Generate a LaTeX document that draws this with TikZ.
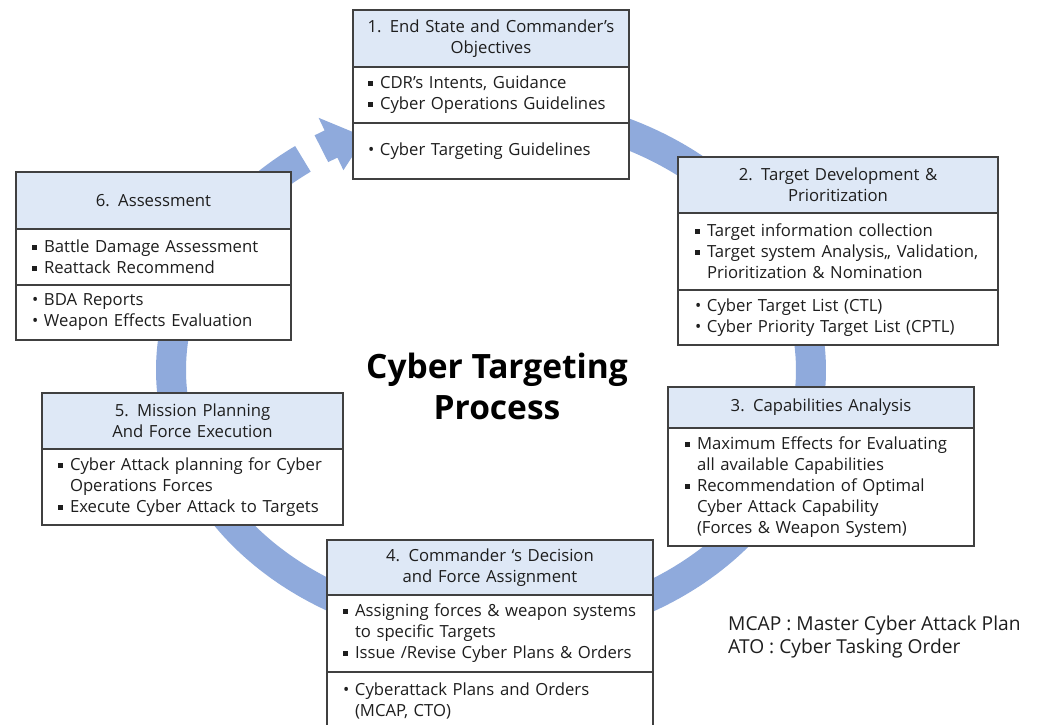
\documentclass[tikz,border=0pt]{standalone}
\usepackage{fontspec}
\setmainfont{Open Sans}
\definecolor{ringblue}{HTML}{8FAADC}
\definecolor{headfill}{HTML}{DEE8F6}
\definecolor{edge}{HTML}{404040}
\definecolor{ink}{HTML}{1E1E1E}
% list lines: square bullet, round bullet, continuation
\newcommand\sqb[1]{\mbox{\makebox[12pt][l]{\rule[2.6pt]{5.2pt}{5.2pt}}#1}}
\newcommand\rdb[1]{\mbox{\makebox[12pt][l]{•}#1}}
\newcommand\cnt[1]{\mbox{\hspace*{12pt}#1}}
\begin{document}
\begin{tikzpicture}[x=1pt, y=-1pt,
  boxfont/.style={font=\fontsize{16.7}{21}\selectfont, text=ink},
  head/.style={draw=edge, line width=1.1pt, fill=headfill, align=center,
    inner xsep=0pt, inner ysep=0pt, outer sep=0pt, anchor=north west, boxfont},
  body/.style={draw=edge, line width=1.1pt, fill=white, align=left,
    inner ysep=0pt, outer sep=0pt, anchor=north west, boxfont},
  ring/.style={draw=ringblue, line width=30pt}]
\useasboundingbox (0,0) rectangle (1037,724);
\fill[white] (0,0) rectangle (1037,724);
\clip (0,0) rectangle (1037,724);

% cycle ring with its arrowhead into step 1
\draw[ring] plot[domain=-234:90, samples=240, smooth]
  ({491+320*cos(\x)},{370-261*sin(\x)});
\fill[ringblue] (314.6,135.3) -- (324.6,130.4) -- (318.6,117.8) -- (365,137)
  -- (343.4,170.2) -- (337.4,157.6) -- (328.2,162.1) -- cycle;

% 1
\node[head, text width=276pt, minimum height=57pt] (b1h) at (353,10)
  {1. End State and Commander’s\\Objectives};
\node[body, inner xsep=15pt, text width=246pt, minimum height=56pt] (b1a) at (b1h.south west)
  {\sqb{CDR’s Intents, Guidance}\\\sqb{Cyber Operations Guidelines}};
\node[body, inner xsep=15pt, text width=246pt, minimum height=56pt] (b1b) at (b1a.south west)
  {\rdb{Cyber Targeting Guidelines}};

% 2
\node[head, text width=320pt, minimum height=56pt] (b2h) at (678,157)
  {2. Target Development \&\\Prioritization};
\node[body, inner xsep=17pt, text width=286pt, minimum height=77pt] (b2a) at (b2h.south west)
  {\sqb{Target information collection}\\\sqb{Target system Analysis,, Validation,}\\\cnt{Prioritization \& Nomination}};
\node[body, inner xsep=17pt, text width=286pt, minimum height=55pt] (b2b) at (b2a.south west)
  {\rdb{Cyber Target List (CTL)}\\\rdb{Cyber Priority Target List (CPTL)}};

% 3
\node[head, text width=306pt, minimum height=41pt] (b3h) at (668,387)
  {3. Capabilities Analysis};
\node[body, inner xsep=17pt, text width=272pt, minimum height=118pt] (b3a) at (b3h.south west)
  {\sqb{Maximum Effects for Evaluating}\\\cnt{all available Capabilities}\\\sqb{Recommendation of Optimal}\\\cnt{Cyber Attack Capability}\\\cnt{(Forces \& Weapon System)}};

% 4
\node[head, text width=326pt, minimum height=55pt] (b4h) at (327,540)
  {4. Commander ‘s Decision\\and Force Assignment};
\node[body, inner xsep=16pt, text width=294pt, minimum height=77pt] (b4a) at (b4h.south west)
  {\sqb{Assigning forces \& weapon systems}\\\cnt{to specific Targets}\\\sqb{Issue /Revise Cyber Plans \& Orders}};
\node[body, inner xsep=16pt, text width=294pt, minimum height=58pt] (b4b) at (b4a.south west)
  {\rdb{Cyberattack Plans and Orders}\\\cnt{(MCAP, CTO)}};

% 5
\node[head, text width=301pt, minimum height=56pt] (b5h) at (42,393)
  {5. Mission Planning\\And Force Execution};
\node[body, inner xsep=16pt, text width=269pt, minimum height=76pt] (b5a) at (b5h.south west)
  {\sqb{Cyber Attack planning for Cyber}\\\cnt{Operations Forces}\\\sqb{Execute Cyber Attack to Targets}};

% 6
\node[head, text width=275pt, minimum height=57pt] (b6h) at (16,172)
  {6. Assessment};
\node[body, inner xsep=16pt, text width=243pt, minimum height=56pt] (b6a) at (b6h.south west)
  {\sqb{Battle Damage Assessment}\\\sqb{Reattack Recommend}};
\node[body, inner xsep=16pt, text width=243pt, minimum height=55pt] (b6b) at (b6a.south west)
  {\rdb{BDA Reports}\\\rdb{Weapon Effects Evaluation}};

% centre title and abbreviations
\node[font=\fontsize{33.5}{41}\selectfont\bfseries, align=center, text=black, inner sep=0pt]
  (title) at (497,386) {Cyber Targeting\\Process};
\node[font=\fontsize{19.2}{23}\selectfont, text=ink, align=left, anchor=west, inner sep=0pt]
  (legend) at (728,637) {MCAP : Master Cyber Attack Plan\\ATO : Cyber Tasking Order};
\end{tikzpicture}
\end{document}
